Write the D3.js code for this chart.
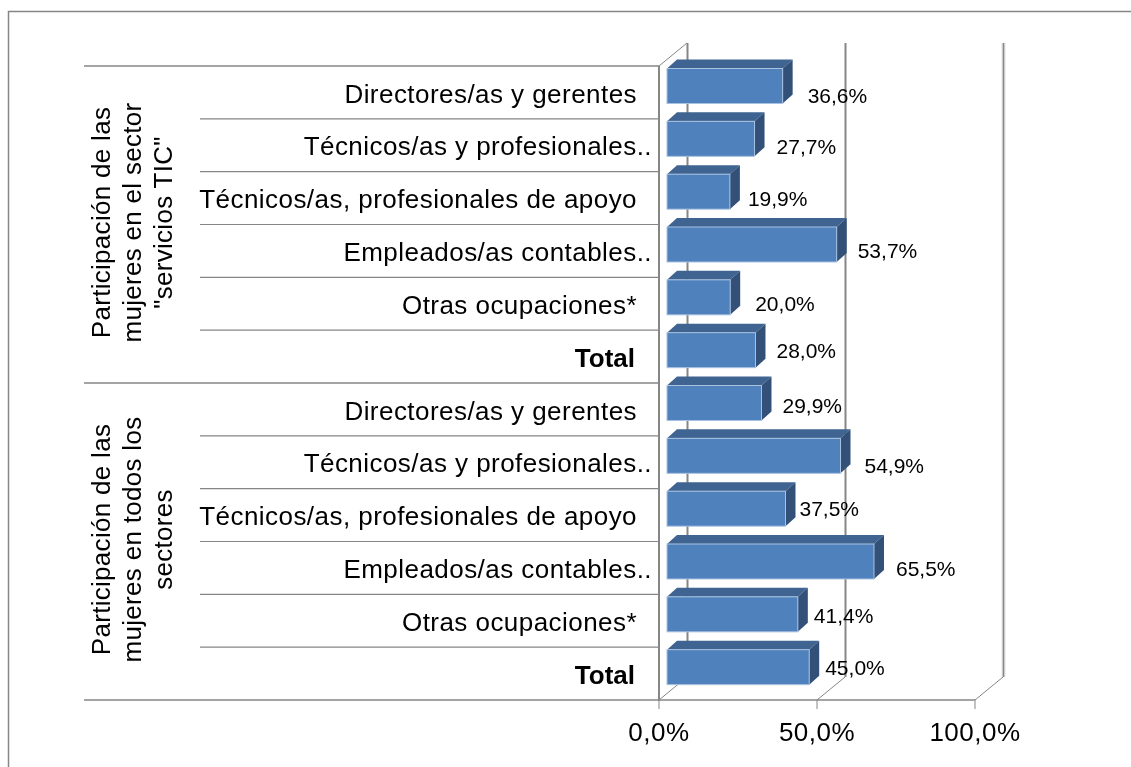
<!DOCTYPE html>
<html>
<head>
<meta charset="utf-8">
<script src="https://d3js.org/d3.v7.min.js"></script>
<style>
  html, body { margin: 0; padding: 0; background: #fff; overflow: hidden; }
  svg { display: block; filter: blur(0.4px); }
  text { font-family: "Liberation Sans", Arial, sans-serif; fill: #000; }
</style>
</head>
<body>
<script>
// data
var categories = ["Directores/as y gerentes", "Técnicos/as y profesionales..", "Técnicos/as, profesionales de apoyo",
                  "Empleados/as contables..", "Otras ocupaciones*", "Total",
                  "Directores/as y gerentes", "Técnicos/as y profesionales..", "Técnicos/as, profesionales de apoyo",
                  "Empleados/as contables..", "Otras ocupaciones*", "Total"];
var values = [36.6, 27.7, 19.9, 53.7, 20.0, 28.0, 29.9, 54.9, 37.5, 65.5, 41.4, 45.0];
var groups = [
  ["Participación de las", "mujeres en el sector", "\"servicios TIC\""],
  ["Participación de las", "mujeres en todos los", "sectores"]
];
var ticks = [0, 50, 100];

// the data labels were dragged by hand in the original, so they each have a nudge
var labelDx = [15, 12, 8, 11, 15, 11, 11, 14, 4, 12, 6, 6];
var labelDy = [3, 1, 1, 0, 0, -6, -4, 3, -6, 1, -5, -6];

//1. size and 3d depths
var width = 1131, height = 767;
var wallDx = 28, wallDy = -23;  // depth of the plot box
var barDx = 10, barDy = -9;     // depth of a bar
var barInset = 8;               // bars sit a little in from the wall
var barHeight = 35;
var plotTop = 66, plotBottom = 700;
var grey = "#868686";

var svg = d3.select("body").append("svg")
    .attr("width", width)
    .attr("height", height);

//2. scales
var x = d3.scaleLinear().domain([0, 100]).range([659, 975]);
var y = d3.scaleBand()
    .domain(d3.range(values.length))
    .range([plotTop, plotBottom]);

function fmt(v) { return v.toFixed(1).replace(".", ",") + "%"; }

function line(x1, y1, x2, y2, w, color) {
  svg.append("line")
      .attr("x1", x1).attr("y1", y1).attr("x2", x2).attr("y2", y2)
      .attr("stroke", color || grey)
      .attr("stroke-width", w || 1);
}

// outer frame, only top and left show
line(8, 11.5, width, 11.5, 1.5);
line(8.5, 11, 8.5, height, 1.5);

// back wall gridlines
ticks.forEach(function(t) {
  var xb = x(t) + wallDx;
  if (t == 100) line(xb + 0.5, plotTop + wallDy, xb + 0.5, plotBottom + wallDy, 4, "#e3e3e3");
  line(xb + 0.5, plotTop + wallDy, xb + 0.5, plotBottom + wallDy, t == 100 ? 1.5 : 2);
  line(x(t), plotBottom, xb, plotBottom + wallDy, 1);
});
line(x(0), plotTop, x(0) + wallDx, plotTop + wallDy, 1);

// left wall, floor front edge and ticks
line(x(0), plotTop, x(0), plotBottom + 1, 2);
line(x(0), plotBottom, x(100), plotBottom, 1.5);
ticks.forEach(function(t) { line(x(t), plotBottom, x(t), plotBottom + 9, 1); });

svg.selectAll(".tick-label")
    .data(ticks)
    .enter().append("text")
    .attr("class", "tick-label")
    .attr("x", function(d) { return x(d); })
    .attr("y", 741)
    .attr("text-anchor", "middle")
    .style("font-size", "26px")
    .style("letter-spacing", "0.5px")
    .text(function(d) { return fmt(d); });

// row separators, the group ones run out further to the left
d3.range(values.length + 1).forEach(function(i) {
  var yy = i == values.length ? plotBottom : y(i);
  var isGroup = i % 6 == 0;
  line(isGroup ? 84 : 200, yy, x(0), yy, isGroup ? 1.5 : 1.2);
});

// bars: top face, side face, front face
var bar = svg.selectAll(".bar")
    .data(values)
    .enter().append("g")
    .attr("class", "bar")
    .attr("transform", function(d, i) { return "translate(" + (x(0) + barInset) + "," + (y(i) + 2.5) + ")"; });

function barW(d) { return x(d) - x(0); }

bar.append("path")
    .attr("fill", "#3f6491")
    .attr("d", function(d) {
      return "M0,0 L" + barDx + "," + barDy + " L" + (barW(d) + barDx) + "," + barDy + " L" + barW(d) + ",0 Z";
    });
bar.append("path")
    .attr("fill", "#325078")
    .attr("d", function(d) {
      var w = barW(d);
      return "M" + w + ",0 L" + (w + barDx) + "," + barDy + " L" + (w + barDx) + "," + (barHeight + barDy) + " L" + w + "," + barHeight + " Z";
    });
bar.append("rect")
    .attr("width", barW)
    .attr("height", barHeight)
    .attr("fill", "#4f81bd")
    .attr("stroke", "#a9c2e0")
    .attr("stroke-width", 1);

// value labels
svg.selectAll(".value")
    .data(values)
    .enter().append("text")
    .attr("class", "value")
    .attr("x", function(d, i) { return x(0) + barInset + barW(d) + barDx + labelDx[i]; })
    .attr("y", function(d, i) { return y(i) + y.bandwidth() / 2 + labelDy[i]; })
    .attr("dy", "0.35em")
    .style("font-size", "21px")
    .text(function(d) { return fmt(d); });

// category labels
svg.selectAll(".cat")
    .data(categories)
    .enter().append("text")
    .attr("class", "cat")
    .attr("x", function(d) { return d.slice(-2) == ".." ? 652 : (d == "Total" ? 635 : 637); })
    .attr("y", function(d, i) { return y(i) + y.bandwidth() / 2 + 1; })
    .attr("dy", "0.35em")
    .attr("text-anchor", "end")
    .style("font-size", "26px")
    .style("letter-spacing", function(d) { return d == "Total" ? "0px" : "0.45px"; })
    .style("font-weight", function(d) { return d == "Total" ? "bold" : "normal"; })
    .text(function(d) { return d; });

// rotated group labels
groups.forEach(function(lines, g) {
  var mid = plotTop + (plotBottom - plotTop) * (g + 0.5) / 2 - 2;
  var t = svg.append("text")
      .attr("transform", "translate(110," + mid + ") rotate(-90)")
      .attr("text-anchor", "middle")
      .style("font-size", "26px")
      .style("letter-spacing", "0.3px");
  lines.forEach(function(s, i) {
    t.append("tspan")
        .attr("x", 0)
        .attr("y", i * 31)
        .text(s);
  });
});
</script>
</body>
</html>
